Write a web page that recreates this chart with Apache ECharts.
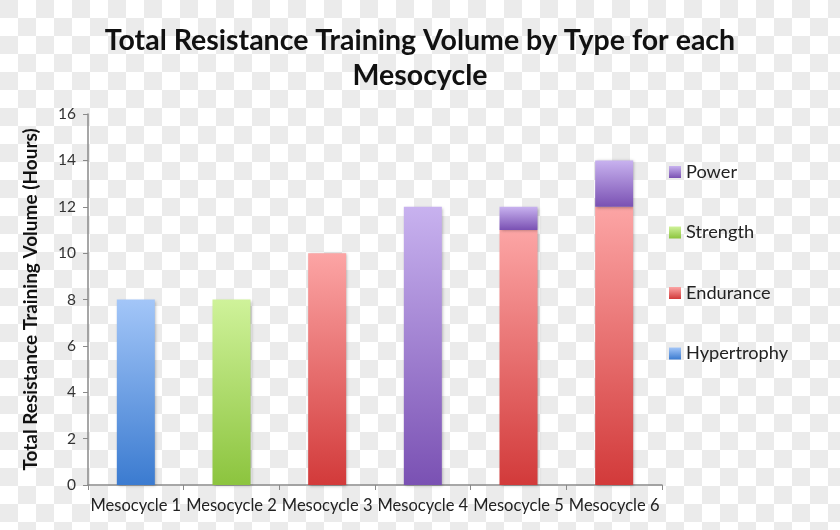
<!DOCTYPE html>
<html>
<head>
<meta charset="utf-8">
<script src="https://cdn.jsdelivr.net/npm/echarts@6/dist/echarts.min.js"></script>
<style>
  html, body { margin: 0; padding: 0; }
  body {
    width: 840px; height: 530px;
    background-color: #ffffff;
    background-image: conic-gradient(#ffffff 0 25%, #ebebeb 0 50%, #ffffff 0 75%, #ebebeb 0);
    background-size: 36px 36px;
  }
  #chart { width: 840px; height: 530px; }
</style>
</head>
<body>
<div id="chart"></div>
<script>
const categories = ['Mesocycle 1', 'Mesocycle 2', 'Mesocycle 3', 'Mesocycle 4', 'Mesocycle 5', 'Mesocycle 6'];
const hypertrophy = [8, null, null, null, null, null];
const strength = [null, 8, null, null, null, null];
const endurance = [null, null, 10, null, 11, 12];
const power = [null, null, null, 12, 1, 2];
const legendOrder = ['Power', 'Strength', 'Endurance', 'Hypertrophy'];

const FONT = 'Lato, "Open Sans", sans-serif';

function grad(top, bottom) {
  return { type: 'linear', x: 0, y: 0, x2: 0, y2: 1,
    colorStops: [{ offset: 0, color: top }, { offset: 1, color: bottom }] };
}
function barSeries(name, data, top, bottom, legendColor) {
  return {
    name: name, type: 'bar', stack: 'total', data: data, barWidth: 38,
    color: legendColor,
    itemStyle: { color: grad(top, bottom), shadowBlur: 3, shadowColor: 'rgba(0,0,0,0.3)', shadowOffsetX: 1, shadowOffsetY: 1 },
    emphasis: { disabled: true }
  };
}

const chart = echarts.init(document.getElementById('chart'), null, { renderer: 'canvas' });
chart.setOption({
  backgroundColor: 'transparent',
  animation: false,
  title: {
    text: 'Total Resistance Training Volume by Type for each\nMesocycle',
    left: 'center', top: 18,
    textStyle: { fontFamily: FONT, fontWeight: 'bold', fontSize: 28.5, lineHeight: 35, color: '#111' }
  },
  legend: {
    orient: 'vertical', left: 664, top: 157,
    data: legendOrder,
    icon: 'rect', itemWidth: 12, itemHeight: 12, itemGap: 40.5,
    textStyle: { fontFamily: FONT, fontSize: 18.2, lineHeight: 20, color: '#222' }
  },
  grid: { left: 88, right: 178, top: 114, bottom: 45 },
  xAxis: {
    type: 'category', data: categories,
    axisLine: { lineStyle: { color: '#8a8a8a', width: 1.5 } },
    axisTick: { show: true, length: 5, lineStyle: { color: '#8a8a8a' } },
    axisLabel: { interval: 0, fontFamily: FONT, fontSize: 16.5, color: '#222', margin: 12 }
  },
  yAxis: {
    type: 'value', min: 0, max: 16, interval: 2,
    name: 'Total Resistance Training Volume (Hours)',
    nameLocation: 'middle', nameGap: 48,
    nameTextStyle: { fontFamily: FONT, fontWeight: 'bold', fontSize: 19, color: '#111' },
    axisLine: { show: true, lineStyle: { color: '#8a8a8a', width: 1.5 } },
    axisTick: { show: true, length: 5, lineStyle: { color: '#8a8a8a' } },
    splitLine: { show: false },
    axisLabel: { fontFamily: FONT, fontSize: 15.5, color: '#333', margin: 12 }
  },
  series: [
    barSeries('Hypertrophy', hypertrophy, '#a3c6f8', '#3b7bd0', '#4a88dc'),
    barSeries('Strength', strength, '#cff29a', '#8cc43e', '#9fd54f'),
    barSeries('Endurance', endurance, '#fca5a5', '#d23a3a', '#e05050'),
    barSeries('Power', power, '#c8b2ef', '#7a51b3', '#8d66c4')
  ]
});
</script>
</body>
</html>
